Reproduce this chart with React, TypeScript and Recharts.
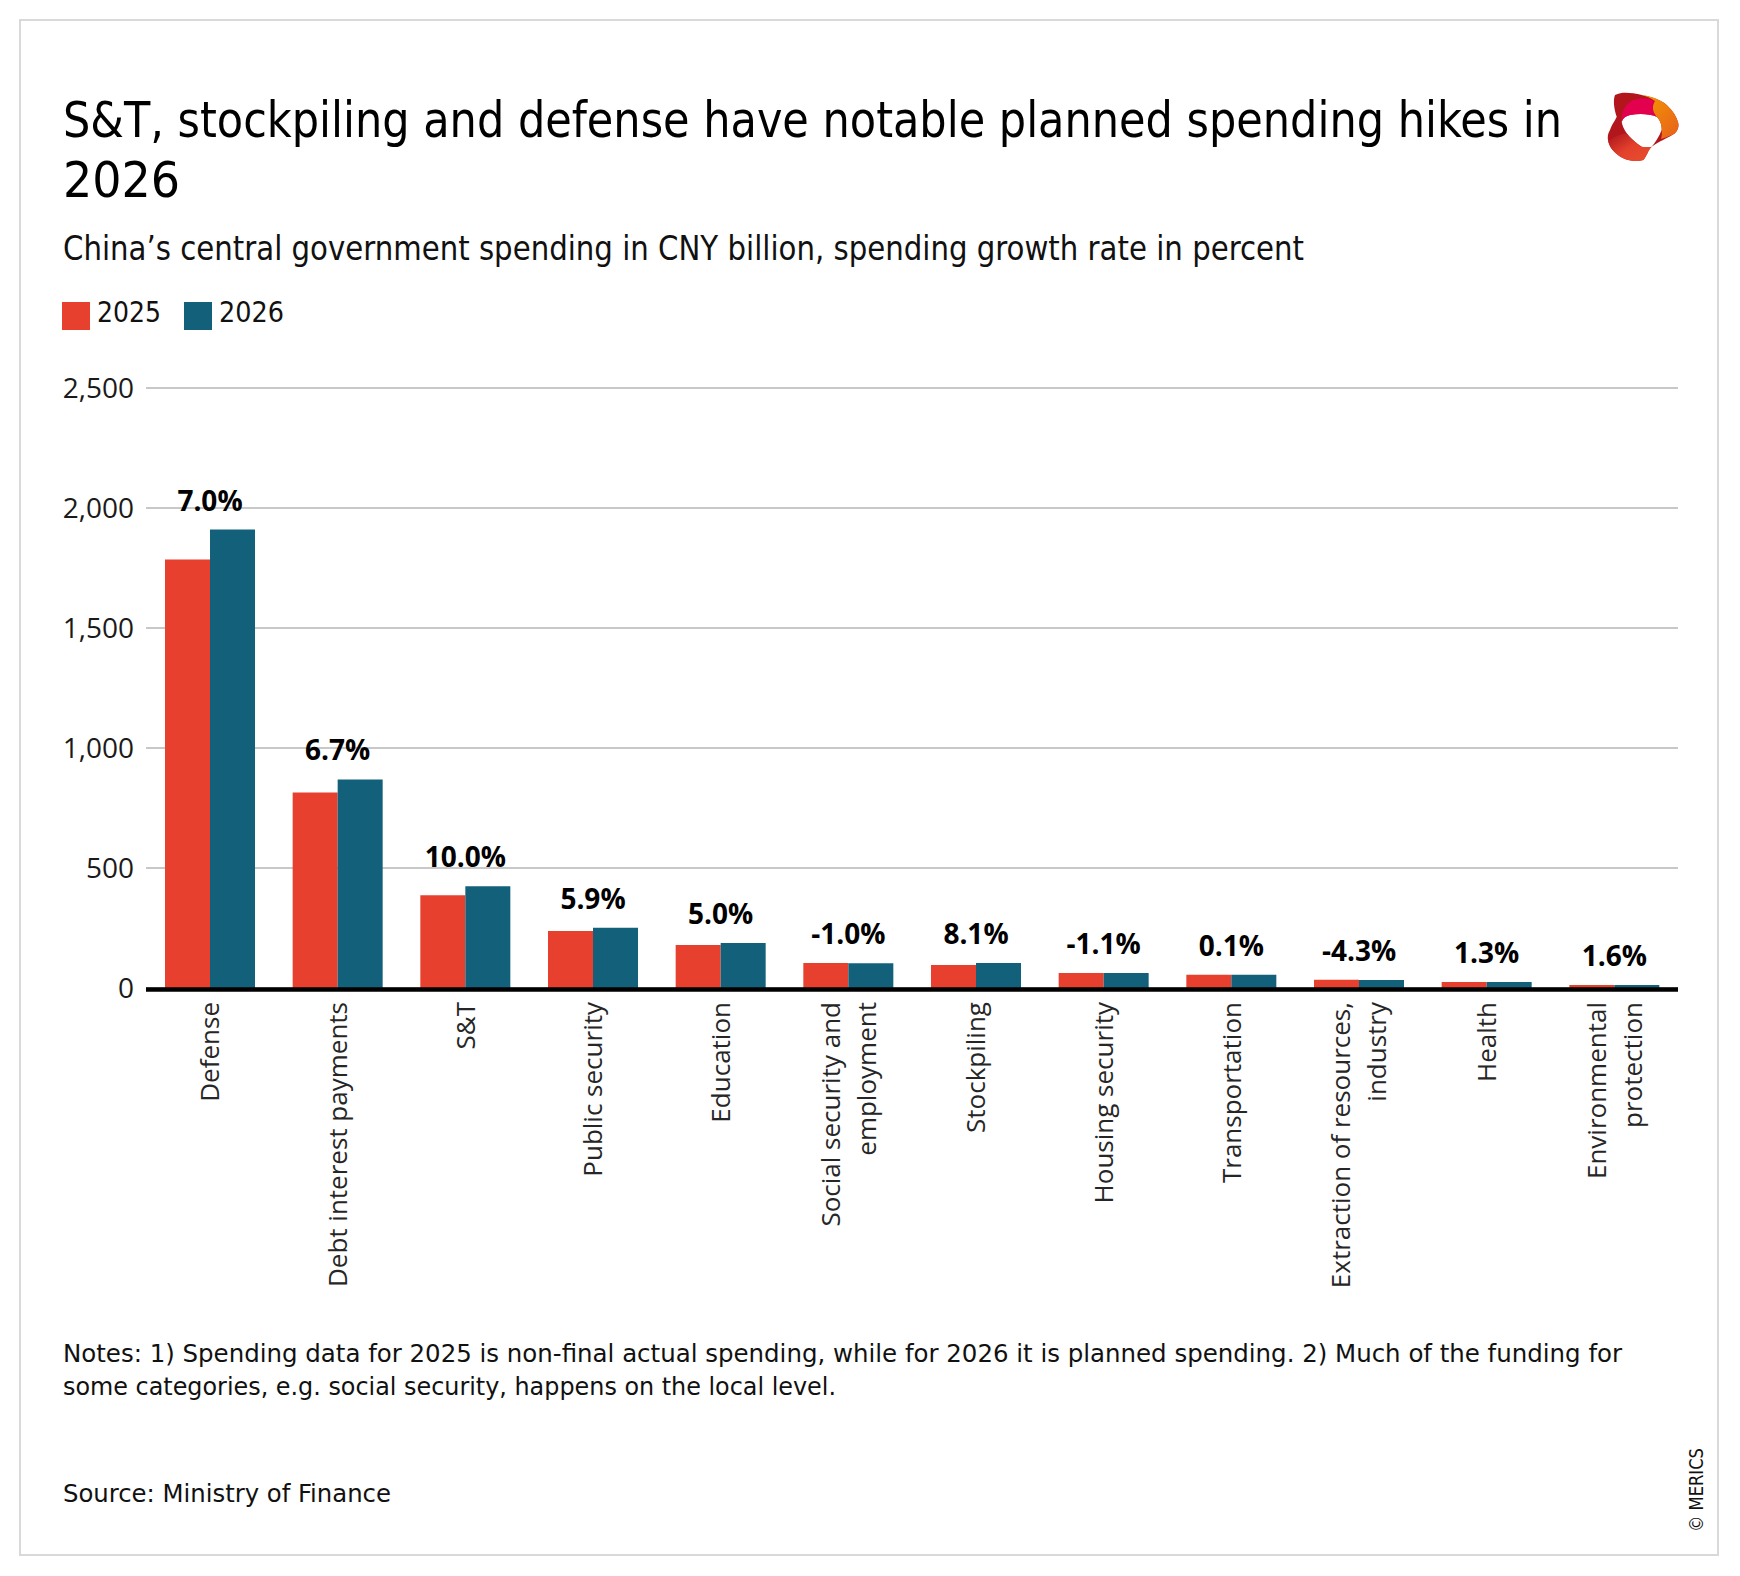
import React from "react";
import { BarChart, Bar, XAxis, YAxis, CartesianGrid, ReferenceLine, LabelList } from "recharts";

const categories = [
  "Defense",
  "Debt interest payments",
  "S&T",
  "Public security",
  "Education",
  "Social security and\nemployment",
  "Stockpiling",
  "Housing security",
  "Transportation",
  "Extraction of resources,\nindustry",
  "Health",
  "Environmental\nprotection",
];
const spending2025 = [1785, 815, 386, 237, 179, 104, 96, 63, 55, 34, 25, 13];
const spending2026 = [1910, 869, 424, 251, 188, 103, 104, 62, 55, 33, 25, 13];
const growthRates = [7.0, 6.7, 10.0, 5.9, 5.0, -1.0, 8.1, -1.1, 0.1, -4.3, 1.3, 1.6];
const yTicks = [0, 500, 1000, 1500, 2000, 2500];
const seriesNames = ["2025", "2026"];

const titleLines = ["S&T, stockpiling and defense have notable planned spending hikes in", "2026"];
const subtitle = "China\u2019s central government spending in CNY billion, spending growth rate in percent";
const noteLines = [
  "Notes: 1) Spending data for 2025 is non-final actual spending, while for 2026 it is planned spending. 2) Much of the funding for",
  "some categories, e.g. social security, happens on the local level.",
];
const sourceText = "Source: Ministry of Finance";

const RED = "#E8402E";
const TEAL = "#12607A";
const COND = "'DejaVu Sans Condensed', 'Liberation Sans Narrow', 'DejaVu Sans', sans-serif";
const OPEN = "'Open Sans', 'DejaVu Sans', sans-serif";

const data = categories.map((c, i) => ({
  category: c,
  y2025: spending2025[i],
  y2026: spending2026[i],
  growth: growthRates[i],
}));

const CategoryTick = (props: any) => {
  const { x, y, payload } = props;
  const lines = String(payload.value).split("\n");
  const lh = 36;
  const start = -((lines.length - 1) * lh) / 2;
  return (
    <g transform={`translate(${x},${y})`}>
      <text transform="rotate(-90)" textAnchor="end" fontFamily={OPEN} fontSize={26} fill="#262626">
        {lines.map((l, i) => (
          <tspan key={i} x={0} y={start + i * lh} dy="0.36em">
            {l}
          </tspan>
        ))}
      </text>
    </g>
  );
};

const GrowthLabel = (props: any) => {
  const vb = props.viewBox || {};
  const x = props.x != null ? props.x : vb.x;
  const y = props.y != null ? props.y : vb.y;
  const v = Number(props.value);
  return (
    <text x={x} y={y - 19} textAnchor="middle" fontFamily={OPEN} fontWeight={700} fontSize={28} fill="#000">
      {v.toFixed(1)}%
    </text>
  );
};

const AxisBaseLine = (p: any) => (
  <line x1={p.x1} y1={p.y1 + 1.5} x2={p.x2} y2={p.y2 + 1.5} stroke="#000" strokeWidth={4.5} />
);

const Logo = () => (
  <g>
    <defs>
      <linearGradient id="lgOrange" x1="0" y1="0" x2="1" y2="1">
        <stop offset="0" stopColor="#f39a00" />
        <stop offset="1" stopColor="#e8601c" />
      </linearGradient>
      <linearGradient id="lgBottom" x1="0" y1="0" x2="1" y2="1">
        <stop offset="0" stopColor="#a8121b" />
        <stop offset="0.5" stopColor="#e3402c" />
        <stop offset="1" stopColor="#e8502e" />
      </linearGradient>
    </defs>
    {/* base ring, dark red */}
    <path
      d="M1615,95 C1621,92 1627,92.5 1633.3,93.3 C1648,96 1660,99 1666.7,105 C1673,111 1677,117 1678.3,123.3 C1679,128 1677,131 1675,133.3 C1668,138 1658,142 1651.7,146.7 C1648,150 1647,156 1643.3,160 C1637,162 1629,161 1623.3,158.3 C1615,154 1610,148 1608.3,141.7 C1607,137 1608,133 1610,130 C1612,124 1615,121 1616.7,116.7 C1614,109 1613,100 1615,95 Z M1621.7,121.7 C1623,118 1626,116 1630,115 C1640,113 1650,114 1656.7,116.7 C1660,120 1662,125 1661.7,130 C1659,137 1655,143 1651.7,146.7 C1648,147.5 1645,147.5 1641.7,146.7 C1636,143 1630,138 1626.7,133.3 C1624,129 1622,125 1621.7,121.7 Z"
      fill="#b3151c"
      fillRule="evenodd"
    />
    {/* crimson top inner band */}
    <path
      d="M1621.7,121.7 C1621,112 1625,104 1633,100 C1642,97 1650,98 1655,101 C1652,106 1652,111 1656.7,116.7 C1650,114 1640,113 1630,115 C1626,116 1623,118 1621.7,121.7 Z"
      fill="#e2004f"
    />
    {/* orange right band */}
    <path
      d="M1640,94.5 C1650,96 1660,99 1666.7,105 C1673,111 1677,117 1678.3,123.3 C1679,128 1677,131 1675,133.3 C1670,136 1665,138 1661,139 C1662,136 1662,133 1661.7,130 C1662,125 1660,120 1656.7,116.7 C1652,111 1652,106 1655,101 C1651,98 1646,96 1640,94.5 Z"
      fill="url(#lgOrange)"
    />
    {/* bottom red-orange lobe */}
    <path
      d="M1608.3,141.7 C1610,148 1615,154 1623.3,158.3 C1629,161 1637,162 1643.3,160 C1647,156 1648,150 1651.7,146.7 C1648,147.5 1645,147.5 1641.7,146.7 C1636,143 1630,138 1626.7,133.3 C1620,134 1613,137 1608.3,141.7 Z"
      fill="url(#lgBottom)"
    />
  </g>
);

export default function App() {
  return (
    <div style={{ position: "absolute", left: 0, top: 0, width: 1740, height: 1576, background: "#fff" }}>
      <svg width={1740} height={1576} style={{ position: "absolute", left: 0, top: 0 }}>
        <rect x={20} y={20} width={1698} height={1535} fill="none" stroke="#d9d9d9" strokeWidth={2} />
        <text x={63} y={137} fontFamily={COND} fontSize={50} fill="#000" textLength={1499} lengthAdjust="spacingAndGlyphs">
          {titleLines[0]}
        </text>
        <text x={63} y={197} fontFamily={COND} fontSize={50} fill="#000" textLength={117} lengthAdjust="spacingAndGlyphs">
          {titleLines[1]}
        </text>
        <text x={63} y={260} fontFamily={COND} fontSize={34} fill="#111" textLength={1241} lengthAdjust="spacingAndGlyphs">
          {subtitle}
        </text>
        <rect x={62} y={302} width={28} height={28} fill={RED} />
        <text x={97} y={322} fontFamily={COND} fontSize={27.5} fill="#111" textLength={64} lengthAdjust="spacingAndGlyphs">
          {seriesNames[0]}
        </text>
        <rect x={184} y={302} width={28} height={28} fill={TEAL} />
        <text x={219} y={322} fontFamily={COND} fontSize={27.5} fill="#111" textLength={65} lengthAdjust="spacingAndGlyphs">
          {seriesNames[1]}
        </text>
        <text x={63} y={1362} fontFamily={COND} fontSize={25.5} fill="#111" textLength={1559} lengthAdjust="spacingAndGlyphs">
          {noteLines[0]}
        </text>
        <text x={63} y={1395} fontFamily={COND} fontSize={25.5} fill="#111" textLength={773} lengthAdjust="spacingAndGlyphs">
          {noteLines[1]}
        </text>
        <text x={63} y={1502} fontFamily={COND} fontSize={25.5} fill="#111" textLength={328} lengthAdjust="spacingAndGlyphs">
          {sourceText}
        </text>
        <g transform="translate(1703,1532) rotate(-90)">
          <text x={0} y={0} fontFamily={COND} fontSize={20} fill="#111" textLength={84} lengthAdjust="spacingAndGlyphs">
            {"\u00A9 MERICS"}
          </text>
        </g>
        <Logo />
      </svg>
      <div style={{ position: "absolute", left: 0, top: 0 }}>
        <BarChart
          width={1740}
          height={1576}
          data={data}
          margin={{ top: 388, right: 62, bottom: 288, left: 46 }}
          barGap={0}
          barSize={45}
        >
          <CartesianGrid vertical={false} stroke="#c8c8c8" strokeWidth={2} />
          <XAxis
            dataKey="category"
            interval={0}
            tick={CategoryTick}
            tickLine={false}
            axisLine={false}
            tickSize={0}
            tickMargin={14}
            height={300}
          />
          <YAxis
            domain={[0, 2500]}
            ticks={yTicks}
            width={100}
            axisLine={false}
            tickLine={false}
            tickSize={0}
            tickMargin={12}
            tick={{ fontFamily: OPEN, fontSize: 28, fill: "#1a1a1a" }}
            tickFormatter={(v: number) => v.toLocaleString("en-US")}
          />
          <Bar dataKey="y2025" name={seriesNames[0]} fill={RED} isAnimationActive={false} />
          <Bar dataKey="y2026" name={seriesNames[1]} fill={TEAL} isAnimationActive={false}>
            <LabelList dataKey="growth" content={GrowthLabel} />
          </Bar>
          <ReferenceLine y={0} shape={AxisBaseLine} />
        </BarChart>
      </div>
    </div>
  );
}
